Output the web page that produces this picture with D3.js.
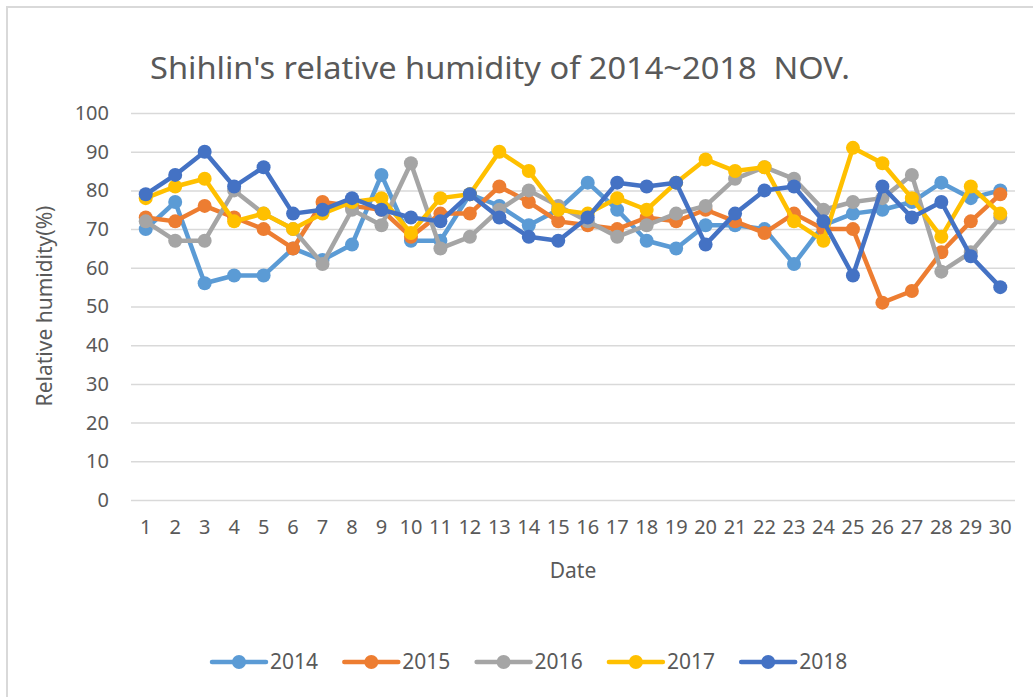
<!DOCTYPE html>
<html>
<head>
<meta charset="utf-8">
<script src="https://cdn.jsdelivr.net/npm/d3@7"></script>
<style>
	body {
		padding: 0;
		margin: 0;
		background: #fff;
	}
	text {
		font-family: "Noto Sans", "Open Sans", sans-serif;
		fill: #595959;
	}
	.grid line {
		stroke: #D9D9D9;
		stroke-width: 1.5;
	}
</style>
</head>
<body>
<div id="content"></div>
<script>

// Data
var dates = d3.range(1, 31);
var years = ['2014', '2015', '2016', '2017', '2018'];
var colors = ['#5B9BD5', '#ED7D31', '#A5A5A5', '#FFC000', '#4472C4'];
var yTicks = [0, 10, 20, 30, 40, 50, 60, 70, 80, 90, 100];

var h2014 = [70, 77, 56, 58, 58, 65, 62, 66, 84, 67, 67, 79, 76, 71, 75, 82, 75, 67, 65, 71, 71, 70, 61, 71, 74, 75, 77, 82, 78, 80];
var h2015 = [73, 72, 76, 73, 70, 65, 77, 76, 75, 68, 74, 74, 81, 77, 72, 71, 70, 73, 72, 75, 72, 69, 74, 70, 70, 51, 54, 64, 72, 79];
var h2016 = [72, 67, 67, 80, 74, 70, 61, 75, 71, 87, 65, 68, 75, 80, 76, 72, 68, 71, 74, 76, 83, 86, 83, 75, 77, 78, 84, 59, 64, 73];
var h2017 = [78, 81, 83, 72, 74, 70, 74, 77, 78, 69, 78, 79, 90, 85, 75, 74, 78, 75, 82, 88, 85, 86, 72, 67, 91, 87, 78, 68, 81, 74];
var h2018 = [79, 84, 90, 81, 86, 74, 75, 78, 75, 73, 72, 79, 73, 68, 67, 73, 82, 81, 82, 66, 74, 80, 81, 72, 58, 81, 73, 77, 63, 55];

var series = [h2014, h2015, h2016, h2017, h2018];

var w = 1033, h = 697;

var svg = d3.select('#content')
	.append('svg')
	.attr('width', w)
	.attr('height', h);

// chart border
svg.append('rect')
	.attr('x', 7)
	.attr('y', 7)
	.attr('width', w + 20)
	.attr('height', h + 20)
	.attr('fill', 'none')
	.attr('stroke', '#D9D9D9')
	.attr('stroke-width', 2);

// scales
var x = d3.scaleBand()
	.domain(dates)
	.range([131, 1015]);
var y = d3.scaleLinear()
	.domain([0, 100])
	.range([500, 113]);
var cx = function(d) { return x(d) + x.bandwidth() / 2; };

// title
svg.append('text')
	.attr('x', 500)
	.attr('y', 79)
	.attr('text-anchor', 'middle')
	.attr('font-size', 30)
	.attr('textLength', 700)
	.attr('lengthAdjust', 'spacingAndGlyphs')
	.style('white-space', 'pre')
	.text("Shihlin's relative humidity of 2014~2018  NOV.");

// gridlines + y labels
var yAxis = d3.axisLeft(y)
	.tickValues(yTicks)
	.tickSize(-(1015 - 131))
	.tickPadding(22);
var gy = svg.append('g')
	.attr('class', 'grid')
	.attr('transform', 'translate(131,0)')
	.call(yAxis);
gy.select('.domain').remove();
gy.selectAll('text')
	.attr('font-size', 20)
	.attr('fill', '#595959');

// x labels
var xAxis = d3.axisBottom(x)
	.tickSize(0)
	.tickPadding(20);
var gx = svg.append('g')
	.attr('transform', 'translate(0,500)')
	.call(xAxis);
gx.select('.domain').remove();
gx.selectAll('text')
	.attr('font-size', 20)
	.attr('fill', '#595959');

// axis titles
svg.append('text')
	.attr('x', 573)
	.attr('y', 578)
	.attr('text-anchor', 'middle')
	.attr('font-size', 21)
	.text('Date');
svg.append('text')
	.attr('transform', 'translate(52,306) rotate(-90)')
	.attr('text-anchor', 'middle')
	.attr('font-size', 21)
	.text('Relative humidity(%)');

// lines and markers
var line = d3.line()
	.x(function(d, i) { return cx(dates[i]); })
	.y(function(d) { return y(d); });

series.forEach(function(vals, k) {
	var g = svg.append('g');
	g.append('path')
		.datum(vals)
		.attr('d', line)
		.attr('fill', 'none')
		.attr('stroke', colors[k])
		.attr('stroke-width', 4.5)
		.attr('stroke-linejoin', 'round');
	g.selectAll('circle')
		.data(vals)
		.enter()
		.append('circle')
		.attr('cx', function(d, i) { return cx(dates[i]); })
		.attr('cy', function(d) { return y(d); })
		.attr('r', 7)
		.attr('fill', colors[k]);
});

// legend
var legend = svg.append('g')
	.attr('transform', 'translate(212,662)');
var item = legend.selectAll('g')
	.data(years)
	.enter()
	.append('g')
	.attr('transform', function(d, i) { return 'translate(' + (i * 132.3) + ',0)'; });
item.append('line')
	.attr('x1', 0)
	.attr('x2', 54)
	.attr('stroke', function(d, i) { return colors[i]; })
	.attr('stroke-width', 4.5)
	.attr('stroke-linecap', 'round');
item.append('circle')
	.attr('cx', 27)
	.attr('r', 7)
	.attr('fill', function(d, i) { return colors[i]; });
item.append('text')
	.attr('x', 58)
	.attr('y', 7)
	.attr('font-size', 21)
	.text(function(d) { return d; });

</script>
</body>
</html>
